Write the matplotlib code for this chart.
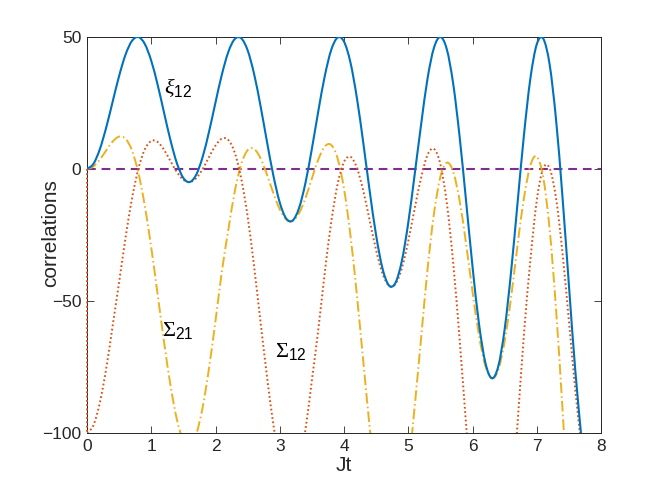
import numpy as np
import matplotlib
matplotlib.use('Agg')
import matplotlib.pyplot as plt
from matplotlib.path import Path
from matplotlib.patches import PathPatch

plt.rcParams['font.family'] = ['Liberation Sans', 'DejaVu Sans']
plt.rcParams['mathtext.fontset'] = 'custom'
plt.rcParams['mathtext.rm'] = 'Liberation Sans'
plt.rcParams['mathtext.it'] = 'Liberation Serif:italic'
plt.rcParams['mathtext.sf'] = 'Liberation Serif'

# sample times Jt, every 0.1
t = np.round(np.arange(78) * 0.1, 1)

xi12 = [0.0, 1.95, 7.52, 15.82, 25.57, 35.26, 43.34, 48.53, 49.96, 47.34,
        40.99, 31.85, 21.25, 10.81, 2.13, -3.41, -4.93, -2.14, 4.58, 14.20,
        25.22, 35.86, 44.36, 49.24, 49.53, 44.97, 36.06, 23.99, 10.49, -2.40,
        -12.69, -18.74, -19.52, -14.81, -5.27, 7.66, 21.90, 35.12, 45.02, 49.77,
        48.26, 40.38, 27.00, 9.93, -8.37, -25.13, -37.73, -44.12, -43.16, -34.86,
        -20.40, -2.05, 16.82, 34.24, 45.91, 50.00, 45.36, 32.20, 12.12, -12.09,
        -36.87, -58.46, -73.34, -79.23, -74.85, -60.75, -39.05, -13.16, 12.69, 34.11,
        47.23, 49.41, 39.63, 18.79, -10.41, -43.78, -76.37, -103.09]

sigma21 = [0.0, 0.96, 3.57, 7.09, 10.41, 12.27, 11.46, 7.03, -1.50, -14.03,
           -29.81, -47.58, -65.62, -82.04, -94.98, -102.91, -104.85, -100.48, -90.26, -75.35,
           -57.46, -38.65, -23.0, -8.46, 1.81, 7.14, 7.62, 4.10, -2.06, -9.10,
           -15.27, -19.12, -19.7, -16.8, -11.01, -3.6, 3.59, 8.49, 9.13, 4.06,
           -7.43, -25.08, -47.59, -72.83, -97.98, -120.0, -136.48, -144.11, -142.39, -132.5,
           -114.1, -90.0, -64.05, -37.98, -16.94, -2.98, 2.38, -1.07, -12.09, -28.28,
           -46.4, -62.93, -74.58, -79.26, -76.21, -65.38, -48.76, -29.03, -11.12, 1.31,
           4.76, -3.04, -22.69, -52.91, -90.6, -131.77, -170.05, -200.74]

# initial value at Jt = 0, before the jump
sigma12_t0 = 0.0
sigma12 = [-100.0, -97.05, -88.54, -75.45, -59.26, -42.85, -25.99, -11.25, 0.12, 7.44,
           10.62, 10.22, 7.24, 2.98, -1.19, -4.09, -4.94, -3.47, 0.0, 4.55,
           8.88, 11.51, 10.97, 6.14, -3.55, -17.96, -36.77, -57.75, -78.29, -96.67,
           -110.70, -118.57, -119.18, -112.33, -98.74, -80.04, -60.81, -39.42, -20.35, -5.83,
           2.67, 4.61, 0.49, -8.26, -19.51, -30.77, -39.64, -44.21, -43.58, -37.6,
           -27.36, -14.94, -3.30, 5.35, 7.59, 1.78, -12.84, -35.64, -64.64, -96.72,
           -128.0, -155.15, -172.63, -179.2, -173.49, -156.13, -129.35, -96.77, -62.89, -34.69,
           -11.98, 0.15, 0.30, -11.04, -31.53, -57.36, -83.85, -106.18]

blue = '#0072BD'
red = '#D95319'
yellow = '#EDB120'
purple = '#7E2F8E'
axcol = '#262626'


def smooth_path(x, y):
    # smooth curve through the samples (Catmull-Rom as cubic Bezier pieces)
    x = np.asarray(x, float)
    y = np.asarray(y, float)
    xp = np.r_[2*x[0] - x[1], x, 2*x[-1] - x[-2]]
    yp = np.r_[2*y[0] - y[1], y, 2*y[-1] - y[-2]]
    verts = [(x[0], y[0])]
    codes = [Path.MOVETO]
    for i in range(len(x) - 1):
        c1 = (xp[i+1] + (xp[i+2] - xp[i])/6, yp[i+1] + (yp[i+2] - yp[i])/6)
        c2 = (xp[i+2] - (xp[i+3] - xp[i+1])/6, yp[i+2] - (yp[i+3] - yp[i+1])/6)
        verts += [c1, c2, (xp[i+2], yp[i+2])]
        codes += [Path.CURVE4]*3
    return Path(verts, codes)


fig = plt.figure(figsize=(6.64, 4.88), dpi=100)
ax = fig.add_axes([87/664, 55/488, 514/664, 396/488])

ax.axhline(0, color=purple, lw=1.5, dashes=(4.2, 2.8), zorder=2)
ax.add_patch(PathPatch(smooth_path(t, sigma21), fill=False, edgecolor=yellow, lw=1.4,
                       linestyle=(0, (5.5, 1.6, 0.8, 1.6)), zorder=3))
ax.add_patch(PathPatch(smooth_path(t, sigma12), fill=False, edgecolor=red, lw=1.4,
                       linestyle=(0, (0.9, 1.3)), zorder=3))
ax.plot([0, 0], [sigma12_t0, sigma12[0]], color=red, lw=1.4, dashes=(0.9, 1.3),
        zorder=5, clip_on=False)
ax.add_patch(PathPatch(smooth_path(t, xi12), fill=False, edgecolor=blue, lw=1.5, zorder=4))

ax.text(1.2, 31, r'$\xi_{12}$', fontsize=16, ha='left', va='center', color='k')
ax.text(1.17, -61, r'$\mathsf{\Sigma}_{21}$', fontsize=16, ha='left', va='center', color='k')
ax.text(2.93, -69, r'$\mathsf{\Sigma}_{12}$', fontsize=16, ha='left', va='center', color='k')

ax.set_xlim(0, 8)
ax.set_ylim(-100, 50)
ax.set_xticks(range(0, 9))
ax.set_yticks([-100, -50, 0, 50])
ax.tick_params(direction='in', top=True, right=True, length=5, width=0.6,
               colors=axcol, labelsize=12.5, pad=4)
for s in ax.spines.values():
    s.set_color(axcol)
    s.set_linewidth(0.7)

ax.set_xlabel('Jt', fontsize=15, color=axcol)
ax.set_ylabel('correlations', fontsize=15, color=axcol)
ax.yaxis.set_label_coords(-0.053, 0.504)
ax.xaxis.set_label_coords(0.5, -0.058)

fig.savefig('out.png', dpi=100)
